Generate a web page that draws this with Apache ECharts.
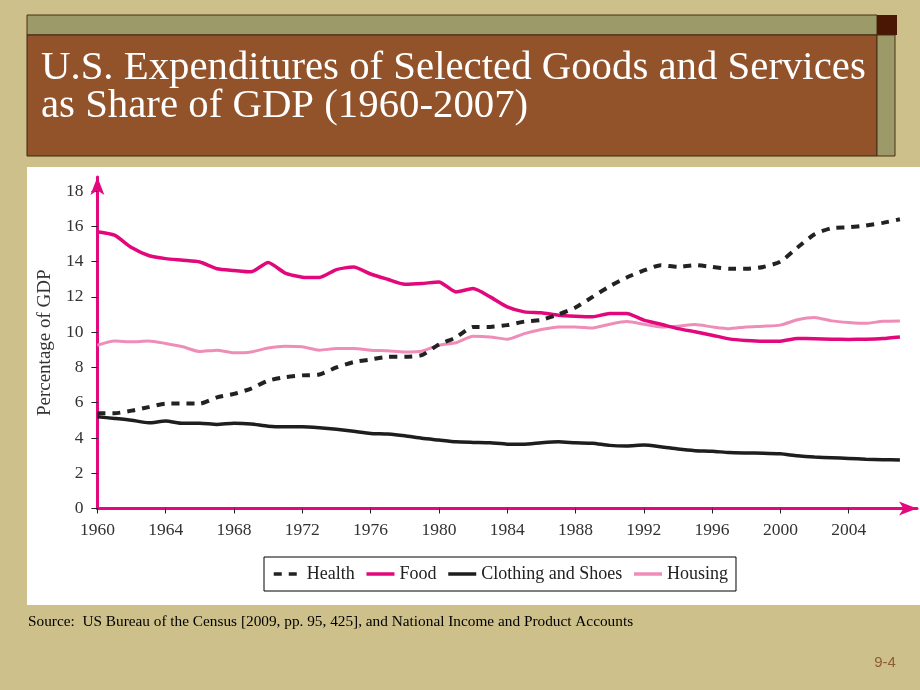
<!DOCTYPE html>
<html><head><meta charset="utf-8">
<script src="https://cdn.jsdelivr.net/npm/echarts@6/dist/echarts.min.js"></script>
<style>html,body{margin:0;padding:0;background:#CDC08A;}#c{width:920px;height:690px;}</style>
</head><body><div id="c"></div>
<script>
const years = [1960,1961,1962,1963,1964,1965,1966,1967,1968,1969,1970,1971,1972,1973,1974,1975,1976,1977,1978,1979,1980,1981,1982,1983,1984,1985,1986,1987,1988,1989,1990,1991,1992,1993,1994,1995,1996,1997,1998,1999,2000,2001,2002,2003,2004,2005,2006,2007];
const health = [5.4,5.4,5.55,5.75,5.95,5.95,5.95,6.3,6.5,6.8,7.25,7.45,7.55,7.6,8.0,8.3,8.45,8.6,8.6,8.7,9.3,9.7,10.3,10.3,10.4,10.6,10.7,11.0,11.4,12.0,12.6,13.1,13.5,13.8,13.7,13.8,13.7,13.6,13.6,13.7,14.0,14.8,15.55,15.9,15.95,16.05,16.2,16.4];
const food = [15.7,15.5,14.8,14.35,14.17,14.08,13.98,13.6,13.5,13.42,13.95,13.35,13.12,13.1,13.55,13.7,13.3,13.0,12.72,12.76,12.85,12.28,12.47,12.0,11.43,11.15,11.1,10.96,10.9,10.87,11.06,11.06,10.68,10.45,10.2,10.02,9.83,9.62,9.53,9.49,9.49,9.64,9.63,9.6,9.59,9.6,9.64,9.73];
const clothing = [5.2,5.11,5.01,4.86,4.96,4.83,4.83,4.77,4.83,4.79,4.67,4.64,4.64,4.58,4.49,4.38,4.26,4.22,4.12,3.98,3.88,3.78,3.75,3.73,3.65,3.65,3.73,3.78,3.73,3.7,3.58,3.55,3.6,3.5,3.37,3.28,3.25,3.17,3.15,3.14,3.1,2.99,2.92,2.88,2.84,2.8,2.77,2.75];
const housing = [9.26,9.5,9.45,9.5,9.36,9.17,8.9,8.98,8.83,8.88,9.1,9.2,9.17,8.98,9.07,9.07,8.98,8.94,8.88,8.92,9.26,9.4,9.77,9.73,9.6,9.92,10.15,10.3,10.3,10.24,10.45,10.6,10.45,10.3,10.34,10.43,10.3,10.2,10.3,10.34,10.4,10.7,10.83,10.64,10.55,10.5,10.62,10.64];
const xTicks = [1960,1964,1968,1972,1976,1980,1984,1988,1992,1996,2000,2004];
const yTicks = [0,2,4,6,8,10,12,14,16,18];
const seriesNames = ['Health','Food','Clothing and Shoes','Housing'];
const titleLines = ['U.S. Expenditures of Selected Goods and Services','as Share of GDP (1960-2007)'];
const sourceText = 'Source:  US Bureau of the Census [2009, pp. 95, 425], and National Income and Product Accounts';
const pageNum = '9-4';

const pair = arr => years.map((y, i) => [y, arr[i]]);
const serif = '"Liberation Serif", "Times New Roman", serif';
const MAG = '#E4087E';

const chart = echarts.init(document.getElementById('c'), null, {renderer: 'canvas'});
chart.setOption({
  backgroundColor: '#CDC08A',
  animation: false,
  graphic: [
    {type: 'rect', z: -10, shape: {x: 27, y: 167, width: 893, height: 438}, style: {fill: '#ffffff'}},
    {type: 'rect', shape: {x: 27, y: 15, width: 850, height: 20}, style: {fill: '#9C9A69', stroke: '#4a2e14', lineWidth: 1}},
    {type: 'rect', shape: {x: 877, y: 15, width: 20, height: 20}, style: {fill: '#4A1705'}},
    {type: 'rect', shape: {x: 27, y: 35, width: 850, height: 121}, style: {fill: '#93532A', stroke: '#3d2410', lineWidth: 1}},
    {type: 'rect', shape: {x: 877, y: 35, width: 18, height: 121}, style: {fill: '#9C9A69', stroke: '#4a2e14', lineWidth: 1}},
    {type: 'text', x: 41, y: 68, scaleX: 0.995, style: {text: titleLines[0], fill: '#ffffff', font: 'normal 41px ' + serif, verticalAlign: 'middle'}},
    {type: 'text', x: 41, y: 106, scaleX: 0.995, style: {text: titleLines[1], fill: '#ffffff', font: 'normal 41px ' + serif, verticalAlign: 'middle'}},
    {type: 'text', x: 28, y: 622, scaleX: 1.02, style: {text: sourceText, fill: '#000000', font: 'normal 15px ' + serif, verticalAlign: 'middle'}},
    {type: 'text', x: 885, y: 663, style: {text: pageNum, fill: '#8B5E34', font: 'normal 15px "Liberation Sans", Arial, sans-serif', align: 'center', verticalAlign: 'middle'}}
  ],
  grid: {left: 97.4, right: 3, top: 177, bottom: 181.5, containLabel: false},
  xAxis: {
    type: 'value', min: 1960, max: 2008, z: 3,
    axisLine: {show: true, onZero: false, lineStyle: {color: MAG, width: 3}, symbol: ['none', 'arrow'], symbolSize: [10.5, 18]},
    axisTick: {show: true, length: 5, lineStyle: {color: '#222', width: 1}, customValues: xTicks},
    axisLabel: {customValues: xTicks, color: '#333', fontFamily: serif, fontSize: 17.5, margin: 13, formatter: v => String(v)},
    splitLine: {show: false}
  },
  yAxis: {
    type: 'value', min: 0, max: 18.8, z: 3,
    name: 'Percentage of GDP', nameLocation: 'middle', nameGap: 40,
    nameTextStyle: {color: '#333', fontFamily: serif, fontSize: 19},
    axisLine: {show: true, onZero: false, lineStyle: {color: MAG, width: 3}, symbol: ['none', 'arrow'], symbolSize: [10.5, 18]},
    axisTick: {show: true, length: 6, lineStyle: {color: '#222', width: 1}, customValues: yTicks},
    axisLabel: {customValues: yTicks, color: '#333', fontFamily: serif, fontSize: 17.5, margin: 14},
    splitLine: {show: false}
  },
  legend: {
    left: 264, top: 557, orient: 'horizontal',
    padding: [8, 8, 8, 8], itemGap: 10, itemWidth: 28, itemHeight: 14,
    backgroundColor: '#fff', borderColor: '#000', borderWidth: 1,
    itemStyle: {opacity: 0},
    lineStyle: {width: 3.5},
    textStyle: {color: '#222', fontFamily: serif, fontSize: 18},
    data: seriesNames
  },
  series: [
    {name: seriesNames[3], type: 'line', data: pair(housing), symbol: 'none', smooth: 0.2, z: 3,
     lineStyle: {color: '#EF8DB9', width: 3}, itemStyle: {color: '#EF8DB9'}},
    {name: seriesNames[2], type: 'line', data: pair(clothing), symbol: 'none', smooth: 0.2, z: 4,
     lineStyle: {color: '#1e1e1e', width: 3.5}, itemStyle: {color: '#1e1e1e'}},
    {name: seriesNames[1], type: 'line', data: pair(food), symbol: 'none', smooth: 0.2, z: 5,
     lineStyle: {color: '#E2087C', width: 3.5}, itemStyle: {color: '#E2087C'}},
    {name: seriesNames[0], type: 'line', data: pair(health), symbol: 'none', smooth: 0.2, z: 6,
     lineStyle: {color: '#222', width: 4, type: [8, 7]}, itemStyle: {color: '#222'}}
  ]
});
</script>
</body></html>
